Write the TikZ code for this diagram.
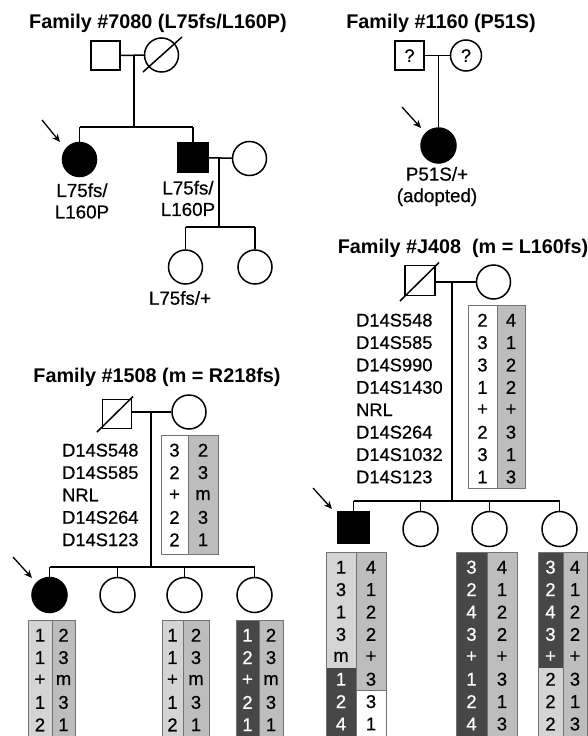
\documentclass[tikz,border=0pt]{standalone}
\usepackage{fontspec}
\setmainfont{Liberation Sans}[UprightFeatures={FakeBold=0.6}]
\usepackage{xcolor}
\usetikzlibrary{arrows.meta,calc}
\definecolor{hapLight}{gray}{0.83}
\definecolor{hapMid}{gray}{0.74}
\definecolor{hapDark}{gray}{0.28}
\tikzset{
    male/.style={rectangle, draw, line width=1.5pt, minimum size=29pt, inner sep=0pt,
        font=\fontsize{18}{19}\selectfont},
    female/.style={circle, draw, line width=1.5pt, minimum size=34pt, inner sep=0pt,
        font=\fontsize{18}{19}\selectfont},
    affected/.style={fill=black},
    link/.style={draw, line width=1.5pt},
    proband/.style={-{Stealth[length=8pt,width=7pt]}, line width=1.3pt},
    famtitle/.style={font=\fontsize{19.8}{21}\selectfont\bfseries},
    geno/.style={font=\fontsize{18.8}{21.5}\selectfont, align=center, inner sep=0pt},
    marker/.style={font=\fontsize{18.3}{19}\selectfont, anchor=west, inner sep=0pt},
    allele/.style={font=\fontsize{18.5}{19}\selectfont, inner sep=0pt},
    hapcol/.style={draw=black!55, line width=0.8pt}
}

\begin{document}
\begin{tikzpicture}[x=1pt,y=-1pt]
\useasboundingbox (0,0) rectangle (588,736);
\clip (0,0) rectangle (588,736);

% ---------------- Family 7080
\node[famtitle] (t7080) at (158,23) {Family \#7080 (L75fs/L160P)};
\node[male]   (f7080) at (105.5,55.5) {};
\node[female] (m7080) at (161.5,55) {};
\draw[link] ($(m7080)+(-18.5,17)$) -- ($(m7080)+(20.5,-18)$);
\draw[link] (f7080) -- (m7080);
\coordinate (d7080) at (134,55);
\coordinate (s7080) at (134,127);
\draw[link] (d7080) -- (s7080);

\node[female, affected] (c7080a) at (79.5,159.5) {};
\node[male, affected, minimum size=30pt] (c7080b) at (193,157.5) {};
\node[female] (w7080) at (249.5,158.5) {};
\draw[link] (c7080a |- s7080) -- (c7080b |- s7080);
\draw[link] (c7080a |- s7080) -- (c7080a);
\draw[link] (c7080b |- s7080) -- (c7080b);
\draw[link] (c7080b) -- (w7080);

\node[geno] (g7080a) at (82,201) {L75fs/\\L160P};
\node[geno] (g7080b) at (188,198.5) {L75fs/\\L160P};

\coordinate (d7080b) at (219,158);
\coordinate (s7080b) at (219,227);
\draw[link] (d7080b) -- (s7080b);
\node[female] (gc7080a) at (185.5,267) {};
\node[female] (gc7080b) at (255,267) {};
\draw[link] (gc7080a |- s7080b) -- (gc7080b |- s7080b);
\draw[link] (gc7080a |- s7080b) -- (gc7080a);
\draw[link] (gc7080b |- s7080b) -- (gc7080b);
\node[geno] (g7080c) at (180,298) {L75fs/+};

\coordinate (p7080a) at (42,120);
\coordinate (p7080b) at (60,142);
\draw[proband] (p7080a) -- (p7080b);

% ---------------- Family 1160
\node[famtitle] (t1160) at (441,23) {Family \#1160 (P51S)};
\node[male]   (f1160) at (409.5,55.5) {?};
\node[female, minimum size=31pt] (m1160) at (466,55.5) {?};
\draw[link] (f1160) -- (m1160);
\node[female, affected, minimum size=35pt] (c1160) at (438.5,145.5) {};
\coordinate (d1160) at (438.5,55.5);
\draw[link] (d1160) -- (c1160);
\node[geno] (g1160) at (437,186.5) {P51S/+\\(adopted)};
\coordinate (p1160a) at (402,107);
\coordinate (p1160b) at (421,128);
\draw[proband] (p1160a) -- (p1160b);

% ---------------- Family J408
\node[famtitle] (tJ408) at (463,248) {Family \#J408\ \ (m = L160fs)};
\node[male, minimum size=30pt] (fJ408) at (420,280.5) {};
\draw[link] ($(fJ408)+(-20,20.5)$) -- ($(fJ408)+(19,-18)$);
\node[female] (mJ408) at (493.5,282) {};
\draw[link] (fJ408.east |- mJ408) -- (mJ408);
\coordinate (dJ408) at (452,282);
\coordinate (sJ408) at (452,501);
\draw[link] (dJ408) -- (sJ408);

\foreach \m [count=\i] in {D14S548,D14S585,D14S990,D14S1430,NRL,D14S264,D14S1032,D14S123}
    \node[marker] (mkJ\i) at (356,{305+15.2+22.4*(\i-1)}) {\m};

\fill[hapMid] (497,305) rectangle (525,488);
\draw[hapcol] (468,305) rectangle (497,488);
\draw[hapcol] (497,305) rectangle (525,488);
\foreach \v [count=\i] in {2,3,3,1,+,2,3,1}
    \node[allele] (pJa\i) at (482.5,{305+15.2+22.4*(\i-1)}) {\v};
\foreach \v [count=\i] in {4,1,2,2,+,3,1,3}
    \node[allele] (pJb\i) at (511,{305+15.2+22.4*(\i-1)}) {\v};

\node[male, affected, minimum size=31pt] (cJ408a) at (353.5,527.5) {};
\node[female, minimum size=35pt] (cJ408b) at (420.5,529) {};
\node[female, minimum size=35pt] (cJ408c) at (489.5,529) {};
\node[female, minimum size=35pt] (cJ408d) at (559.5,529) {};
\draw[link] (cJ408a |- sJ408) -- (cJ408d |- sJ408);
\foreach \c in {cJ408a,cJ408b,cJ408c,cJ408d}
    \draw[link] (\c |- sJ408) -- (\c);
\coordinate (pJ408a) at (313,488);
\coordinate (pJ408b) at (332,509);
\draw[proband] (pJ408a) -- (pJ408b);

% proband haplotypes
\fill[hapLight] (326,552) rectangle (356,668);
\fill[hapDark]  (326,668) rectangle (356,745);
\fill[hapMid]   (356,552) rectangle (386,690.4);
\draw[hapcol] (326,552) rectangle (356,745);
\draw[hapcol] (356,552) rectangle (386,745);
\draw[hapcol] (356,690.4) -- (386,690.4);
\foreach \v [count=\i] in {1,3,1,3,m}
    \node[allele] (hJa\i) at (341,{552+15.2+22.4*(\i-1)}) {\v};
\foreach \v [count=\i from 6] in {1,2,4}
    \node[allele, text=white] (hJa\i) at (341,{552+15.2+22.4*(\i-1)}) {\v};
\foreach \v [count=\i] in {4,1,2,2,+,3,3,1}
    \node[allele] (hJb\i) at (371,{552+15.2+22.4*(\i-1)}) {\v};

% third child
\fill[hapDark] (456,552) rectangle (487,745);
\fill[hapMid]  (487,552) rectangle (517,745);
\draw[hapcol] (456,552) rectangle (487,745);
\draw[hapcol] (487,552) rectangle (517,745);
\foreach \v [count=\i] in {3,2,4,3,+,1,2,4}
    \node[allele, text=white] (hJc\i) at (471.5,{552+15.2+22.4*(\i-1)}) {\v};
\foreach \v [count=\i] in {4,1,2,2,+,3,1,3}
    \node[allele] (hJd\i) at (502,{552+15.2+22.4*(\i-1)}) {\v};

% fourth child
\fill[hapDark]  (538,552) rectangle (563,668);
\fill[hapLight] (538,668) rectangle (563,745);
\fill[hapMid]   (563,552) rectangle (587,745);
\draw[hapcol] (538,552) rectangle (563,745);
\draw[hapcol] (563,552) rectangle (587,745);
\foreach \v [count=\i] in {3,2,4,3,+}
    \node[allele, text=white] (hJe\i) at (550.5,{552+15.2+22.4*(\i-1)}) {\v};
\foreach \v [count=\i from 6] in {2,2,2}
    \node[allele] (hJe\i) at (550.5,{552+15.2+22.4*(\i-1)}) {\v};
\foreach \v [count=\i] in {4,1,2,2,+,3,1,3}
    \node[allele] (hJf\i) at (575,{552+15.2+22.4*(\i-1)}) {\v};

% ---------------- Family 1508
\node[famtitle] (t1508) at (157,377) {Family \#1508 (m = R218fs)};
\node[male] (f1508) at (117,414) {};
\draw[link] ($(f1508)+(-20,18)$) -- ($(f1508)+(16,-17.5)$);
\node[female] (m1508) at (189,412) {};
\draw[link] (f1508.east |- m1508) -- (m1508);
\coordinate (d1508) at (151,412);
\coordinate (s1508) at (151,567);
\draw[link] (d1508) -- (s1508);

\foreach \m [count=\i] in {D14S548,D14S585,NRL,D14S264,D14S123}
    \node[marker] (mk\i) at (62,{435+15.2+22.4*(\i-1)}) {\m};

\fill[hapMid] (188,435) rectangle (218,554);
\draw[hapcol] (161,435) rectangle (188,554);
\draw[hapcol] (188,435) rectangle (218,554);
\foreach \v [count=\i] in {3,2,+,2,2}
    \node[allele] (pBa\i) at (174.5,{435+15.2+22.4*(\i-1)}) {\v};
\foreach \v [count=\i] in {2,3,m,3,1}
    \node[allele] (pBb\i) at (203,{435+15.2+22.4*(\i-1)}) {\v};

\node[female, affected, minimum size=35pt] (c1508a) at (49.5,595) {};
\node[female, minimum size=35pt] (c1508b) at (117.5,595) {};
\node[female, minimum size=35pt] (c1508c) at (184.5,595) {};
\node[female, minimum size=35pt] (c1508d) at (254.5,595) {};
\draw[link] (c1508a |- s1508) -- (c1508d |- s1508);
\foreach \c in {c1508a,c1508b,c1508c,c1508d}
    \draw[link] (\c |- s1508) -- (\c);
\coordinate (p1508a) at (13,557);
\coordinate (p1508b) at (32,578);
\draw[proband] (p1508a) -- (p1508b);

% proband haplotypes
\fill[hapLight] (28,620) rectangle (52,745);
\fill[hapMid]   (52,620) rectangle (75,745);
\draw[hapcol] (28,620) rectangle (52,745);
\draw[hapcol] (52,620) rectangle (75,745);
\foreach \v [count=\i] in {1,1,+,1,2}
    \node[allele] (hBa\i) at (40,{620+15.2+22.4*(\i-1)}) {\v};
\foreach \v [count=\i] in {2,3,m,3,1}
    \node[allele] (hBb\i) at (63.5,{620+15.2+22.4*(\i-1)}) {\v};

% third child
\fill[hapLight] (162,620) rectangle (183,745);
\fill[hapMid]   (183,620) rectangle (209,745);
\draw[hapcol] (162,620) rectangle (183,745);
\draw[hapcol] (183,620) rectangle (209,745);
\foreach \v [count=\i] in {1,1,+,1,2}
    \node[allele] (hBc\i) at (172.5,{620+15.2+22.4*(\i-1)}) {\v};
\foreach \v [count=\i] in {2,3,m,3,1}
    \node[allele] (hBd\i) at (196,{620+15.2+22.4*(\i-1)}) {\v};

% fourth child
\fill[hapDark] (236,620) rectangle (259,745);
\fill[hapMid]  (259,620) rectangle (283,745);
\draw[hapcol] (236,620) rectangle (259,745);
\draw[hapcol] (259,620) rectangle (283,745);
\foreach \v [count=\i] in {1,2,+,2,1}
    \node[allele, text=white] (hBe\i) at (247.5,{620+15.2+22.4*(\i-1)}) {\v};
\foreach \v [count=\i] in {2,3,m,3,1}
    \node[allele] (hBf\i) at (271,{620+15.2+22.4*(\i-1)}) {\v};

\end{tikzpicture}
\end{document}
